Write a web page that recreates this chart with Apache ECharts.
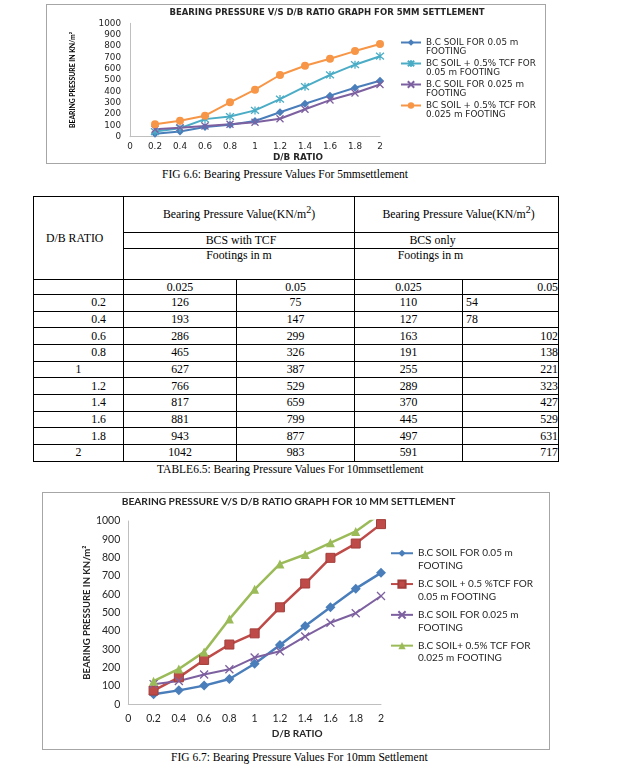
<!DOCTYPE html>
<html>
<head>
<meta charset="utf-8">
<script src="https://cdn.jsdelivr.net/npm/echarts@6/dist/echarts.min.js"></script>
<style>
html,body{margin:0;padding:0;background:#fff;}
.box{position:absolute;border:1px solid #a6a6a6;background:#fff;}
.cap{position:absolute;font-family:'Liberation Serif','Times New Roman',serif;font-size:11.5px;color:#000;white-space:nowrap;line-height:14px;}
#tbl{position:absolute;left:33px;top:196px;border-collapse:collapse;table-layout:fixed;font-family:'Liberation Serif','Times New Roman',serif;font-size:11.8px;color:#000;}
#tbl td{border:1px solid #000;padding:0;white-space:nowrap;vertical-align:middle;text-align:center;line-height:13px;}
#tbl sup{font-size:10px;line-height:0;vertical-align:5px;}
</style>
</head>
<body>
<div class="box" id="c1" style="left:46px;top:4px;width:498px;height:158px;"></div>
<div class="cap" style="left:162px;top:167px;">FIG 6.6: Bearing Pressure Values For 5mmsettlement</div>
<table id="tbl"></table>
<div class="cap" style="left:157px;top:462px;">TABLE6.5: Bearing Pressure Values For 10mmsettlement</div>
<div class="box" id="c2" style="left:42px;top:492px;width:506px;height:256px;"></div>
<div class="cap" style="left:171px;top:750px;">FIG 6.7: Bearing Pressure Values For 10mm Settlement</div>
<script>
// ---------- shared categories ----------
const xCats = ['0','0.2','0.4','0.6','0.8','1','1.2','1.4','1.6','1.8','2'];

// ---------- FIG 6.6 (5 mm settlement) ----------
const fig1Names = ['B.C SOIL FOR 0.05 m\nFOOTING','BC SOIL + 0.5% TCF FOR\n0.05 m FOOTING','B.C SOIL FOR 0.025 m\nFOOTING','BC SOIL + 0.5% TCF FOR\n0.025 m FOOTING'];
const s5_bc05   = [25, 45, 85, 105, 138, 215, 290, 362, 432, 494];
const s5_tcf05  = [45, 75, 155, 178, 232, 332, 441, 545, 635, 710];
const s5_bc025  = [65, 80, 95, 110, 128, 158, 242, 323, 385, 460];
const s5_tcf025 = [110, 140, 185, 303, 415, 544, 626, 688, 755, 818];

// ---------- TABLE 6.5 (10 mm settlement) ----------
const dbRatio = ['0.2','0.4','0.6','0.8','1','1.2','1.4','1.6','1.8','2'];
const tcf025 = [126, 193, 286, 465, 627, 766, 817, 881, 943, 1042];
const tcf05  = [75, 147, 299, 326, 387, 529, 659, 799, 877, 983];
const bcs025 = [110, 127, 163, 191, 255, 289, 370, 445, 497, 591];
const bcs05  = [54, 78, 102, 138, 221, 323, 427, 529, 631, 717];

// ---------- FIG 6.7 (10 mm settlement) ----------
const fig2Names = ['B.C SOIL FOR 0.05 m\nFOOTING','B.C SOIL + 0.5 %TCF FOR\n0.05 m FOOTING','B.C SOIL FOR 0.025 m\nFOOTING','B.C SOIL+ 0.5% TCF FOR\n0.025 m FOOTING'];
const s10_bc05   = [55, 76, 102, 138, 221, 323, 427, 529, 631, 717];
const s10_tcf05  = [75, 147, 242, 326, 387, 529, 659, 799, 877, 983];
const s10_bc025  = [110, 127, 163, 191, 255, 289, 370, 445, 497, 591];
const s10_tcf025 = [126, 193, 286, 465, 627, 766, 817, 881, 943, 1042];

// ---------- table ----------
(function(){
  const t = document.getElementById('tbl');
  const widths = [90,113,118,108,96];
  let h = '<colgroup>' + widths.map(w=>'<col style="width:'+w+'px">').join('') + '</colgroup>';
  const bp = 'Bearing Pressure Value(KN/m<sup>2</sup>)';
  h += '<tr style="height:36px"><td rowspan="3" style="text-align:left;padding-left:12px;">D/B RATIO</td>' +
       '<td colspan="2">' + bp + '</td><td colspan="2" style="padding-left:4px">' + bp + '</td></tr>';
  h += '<tr style="height:16px"><td colspan="2" style="padding-left:4px">BCS with TCF</td><td colspan="2" style="padding-right:48px">BCS only</td></tr>';
  h += '<tr style="height:31px"><td colspan="2" style="vertical-align:top">Footings in m</td><td colspan="2" style="vertical-align:top;padding-right:52px">Footings in m</td></tr>';
  h += '<tr style="height:15px"><td></td><td>0.025</td><td>0.05</td><td>0.025</td><td style="text-align:right">0.05</td></tr>';
  for (let i=0;i<dbRatio.length;i++){
    const whole = dbRatio[i].indexOf('.')<0;
    const aStyle = whole ? '' : 'text-align:right;padding-right:17px;';
    const eStyle = bcs05[i] < 100 ? 'text-align:left;padding-left:3px;' : 'text-align:right;';
    h += '<tr style="height:16.67px"><td style="'+aStyle+'">'+dbRatio[i]+'</td><td>'+tcf025[i]+'</td><td>'+tcf05[i]+'</td><td>'+bcs025[i]+'</td><td style="'+eStyle+'">'+bcs05[i]+'</td></tr>';
  }
  t.innerHTML = h;
})();

function mk(name, vals, color, symbol, size, lw, stroke){
  return {
    name: name, type:'line', data:[null].concat(vals),
    symbol: symbol, symbolSize: size, clip:true,
    lineStyle:{width:lw, color:color},
    itemStyle:{color:color, borderColor: stroke || color, borderWidth: stroke ? 1 : (symbol.indexOf('path')===0 ? 1.3 : 0)},
    emphasis:{disabled:true}
  };
}
const XPATH = 'path://M0,0L10,10M0,10L10,0';
const STAR = 'path://M0,0L10,10M0,10L10,0M5,-1L5,11';
const plain = v => String(v);
const firstLineAligned = name => '\n' + name;

// ---------- chart 1 ----------
const f1 = 'DejaVu Sans';
const c1 = echarts.init(document.getElementById('c1'));
c1.setOption({
  animation:false,
  title:{text:'BEARING PRESSURE V/S D/B RATIO GRAPH FOR 5MM SETTLEMENT', left:280, top:3, textAlign:'center', padding:0,
    textStyle:{fontFamily:f1, fontSize:8.5, fontWeight:'bold', color:'#262626'}},
  grid:{left:83, top:18.3, width:250, height:113.4, outerBoundsMode:'none', containLabel:false},
  legend:{orient:'vertical', left:353, top:24, padding:0, itemWidth:20, itemHeight:8, itemGap:-6,
    formatter:firstLineAligned,
    textStyle:{fontFamily:f1, fontSize:8.8, lineHeight:9, color:'#262626'},
    data:fig1Names},
  xAxis:{type:'category', data:xCats, boundaryGap:false,
    axisLine:{lineStyle:{color:'#bfbfbf'}}, axisTick:{show:false},
    axisLabel:{fontFamily:f1, fontSize:8.8, color:'#262626', margin:6, interval:0},
    name:'D/B RATIO', nameLocation:'middle', nameGap:16.5, nameMoveOverlap:false,
    nameTextStyle:{fontFamily:f1, fontSize:8.8, fontWeight:'bold', color:'#262626', padding:[0,0,0,86]}},
  yAxis:{type:'value', min:0, max:1000, interval:100,
    axisLine:{show:true, lineStyle:{color:'#bfbfbf'}}, axisTick:{show:false}, splitLine:{show:false},
    axisLabel:{fontFamily:f1, fontSize:8.8, color:'#262626', margin:9, formatter:plain},
    name:'BEARING PRESSURE IN KN/m²', nameLocation:'middle', nameGap:54, nameMoveOverlap:false,
    nameTextStyle:{fontFamily:'Lato', fontSize:6.8, fontWeight:'bold', color:'#000'}},
  series:[
    mk(fig1Names[0], s5_bc05, '#4a7ebb', 'diamond', 8, 2),
    mk(fig1Names[1], s5_tcf05, '#4bacc6', STAR, 8, 2),
    mk(fig1Names[2], s5_bc025, '#7d60a0', XPATH, 7, 2),
    mk(fig1Names[3], s5_tcf025, '#f79646', 'circle', 8, 2)
  ]
});

// ---------- chart 2 ----------
const f2 = 'Lato';
const c2 = echarts.init(document.getElementById('c2'));
c2.setOption({
  animation:false,
  title:{text:'BEARING PRESSURE V/S D/B RATIO GRAPH FOR 10 MM SETTLEMENT', left:245.5, top:4, textAlign:'center', padding:0,
    textStyle:{fontFamily:f2, fontSize:10.2, fontWeight:'bold', color:'#262626'}},
  grid:{left:85.3, top:28, width:252.7, height:183.3, outerBoundsMode:'none', containLabel:false},
  legend:{orient:'vertical', left:347, top:41.5, padding:0, itemWidth:22, itemHeight:9, itemGap:-6.7,
    formatter:firstLineAligned,
    textStyle:{fontFamily:f2, fontSize:10, lineHeight:12.5, color:'#262626'},
    data:fig2Names},
  xAxis:{type:'category', data:xCats, boundaryGap:false,
    axisLine:{lineStyle:{color:'#bfbfbf'}}, axisTick:{show:false},
    axisLabel:{fontFamily:f2, fontSize:10.5, color:'#262626', margin:9, interval:0},
    name:'D/B RATIO', nameLocation:'middle', nameGap:24, nameMoveOverlap:false,
    nameTextStyle:{fontFamily:f2, fontSize:10, fontWeight:'bold', color:'#262626', padding:[0,0,0,85]}},
  yAxis:{type:'value', min:0, max:1000, interval:100,
    axisLine:{show:true, lineStyle:{color:'#bfbfbf'}}, axisTick:{show:false}, splitLine:{show:false},
    axisLabel:{fontFamily:f2, fontSize:10.5, color:'#262626', margin:8, formatter:plain},
    name:'BEARING PRESSURE IN KN/m²', nameLocation:'middle', nameGap:36, nameMoveOverlap:false,
    nameTextStyle:{fontFamily:f2, fontSize:9.5, fontWeight:'bold', color:'#262626'}},
  series:[
    mk(fig2Names[0], s10_bc05, '#4a7ebb', 'diamond', 10, 2.5),
    mk(fig2Names[1], s10_tcf05, '#be4b48', 'rect', 9, 2.5, '#a33d3a'),
    mk(fig2Names[2], s10_bc025, '#7d60a0', XPATH, 8, 2),
    mk(fig2Names[3], s10_tcf025, '#9bbb59', 'triangle', 9, 2.5)
  ]
});
</script>
</body>
</html>
